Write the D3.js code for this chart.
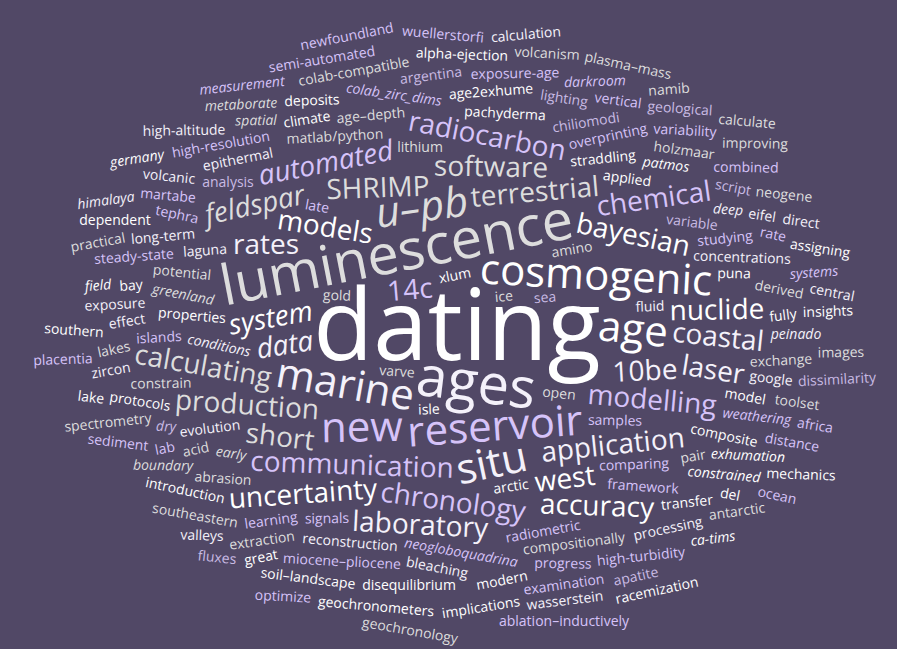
<!DOCTYPE html>
<html>
<head>
<meta charset="utf-8">
<script src="https://cdn.jsdelivr.net/npm/d3@7"></script>
<style>
  html, body { margin: 0; padding: 0; background: #514866; }
  svg { display: block; }
</style>
</head>
<body>
<div id="chart"></div>
<script>
// word frequencies, grouped by count
var wordsCount7 = ['dating'];
var wordsCount4 = ['ages', 'luminescence'];
var wordsCount3 = ['reservoir', 'cosmogenic', 'marine', 'u\u2013pb', 'new', 'age', 'situ'];
var wordsCount2 = ['terrestrial', 'communication', 'models', 'data', 'SHRIMP', 'modelling',
    'bayesian', 'application', 'software', 'chronology', 'system', '10be', 'production',
    'radiocarbon', 'west', 'rates', 'short', 'automated', 'uncertainty', 'laboratory',
    'calculating', 'chemical', 'nuclide', 'coastal', 'feldspar', '14c', 'accuracy', 'laser'];
var wordsCount1 = ['amino', 'comparing', 'properties', 'conditions', 'straddling', 'samples',
    'applied', 'radiometric', 'matlab/python', 'framework', 'greenland', 'evolution', 'lithium',
    'variable', 'xlum', 'laguna', 'pachyderma', 'neogloboquadrina', 'arctic', 'signals',
    'potential', 'overprinting', 'age\u2013depth', 'concentrations', 'early', 'chiliomodi', 'isle',
    'reconstruction', 'composite', 'studying', 'puna', 'colab_zirc_dims', 'pair', 'islands',
    'abrasion', 'bleaching', 'compositionally', 'analysis', 'patmos', 'epithermal', 'age2exhume',
    'miocene\u2013pliocene', 'model', 'learning', 'constrain', 'weathering', 'acid', 'long-term',
    'gold', 'lighting', 'climate', 'fluid', 'constrained', 'tephra', 'transfer', 'progress',
    'holzmaar', 'high-resolution', 'exchange', 'deep', 'derived', 'argentina', 'disequilibrium',
    'google', 'modern', 'steady-state', 'exhumation', 'late', 'extraction', 'exposure-age', 'open',
    'processing', 'ice', 'dry', 'protocols', 'effect', 'deposits', 'martabe', 'introduction',
    'high-turbidity', 'boundary', 'vertical', 'colab-compatible', 'exposure', 'varve', 'script',
    'fully', 'peinado', 'soil\u2013landscape', 'lab', 'bay', 'variability', 'southeastern',
    'examination', 'spatial', 'volcanic', 'lakes', 'sea', 'alpha-ejection', 'eifel', 'implications',
    'darkroom', 'geochronometers', 'rate', 'spectrometry', 'combined', 'toolset', 'zircon',
    'metaborate', 'geological', 'del', 'wasserstein', 'dependent', 'sediment', 'great', 'systems',
    'volcanism', 'distance', 'antarctic', 'high-altitude', 'neogene', 'apatite', 'field', 'valleys',
    'assigning', 'semi-automated', 'insights', 'wuellerstorfi', 'plasma\u2013mass', 'measurement',
    'improving', 'direct', 'practical', 'dissimilarity', 'southern', 'central', 'ca-tims',
    'ablation\u2013inductively', 'lake', 'newfoundland', 'namib', 'optimize', 'geochronology',
    'himalaya', 'images', 'fluxes', 'racemization', 'calculation', 'mechanics', 'africa',
    'germany', 'placentia', 'calculate', 'ocean'];

var groups = [[7, wordsCount7], [4, wordsCount4], [3, wordsCount3], [2, wordsCount2], [1, wordsCount1]];

var palette = ['#ffffff', '#f4f1fa', '#dddddd', '#d6c3f9', '#ffffff', '#c9bbe4'];

var width = 897, height = 649;

var data = [];
groups.forEach(g => g[1].forEach(w => data.push({text: w, count: g[0]})));

var fontScale = d3.scaleLinear().domain([0, 7]).range([0, 98]);

var color = d3.scaleOrdinal().range(palette);

data.forEach((d, i) => {
    d.size = fontScale(d.count);
    d.rotate = ((i * 7 + 12) % 25) - 12;
    d.color = color(i % 4 + (i > 40 && i % 3 == 0 ? 2 : 0));
    d.italic = i % 7 == 6;
});

var cloud = layoutCloud(data, width, height);

var svg = d3.select('#chart').append('svg')
    .attr('width', width)
    .attr('height', height);

svg.append('rect')
    .attr('width', width)
    .attr('height', height)
    .attr('fill', '#514866');

svg.append('g')
    .selectAll('text')
    .data(cloud)
    .enter().append('text')
    .attr('transform', d => `translate(${d.x},${d.y}) rotate(${d.rotate})`)
    .attr('y', d => d.size * 0.3)
    .attr('text-anchor', 'middle')
    .style('font-family', '"Open Sans"')
    .style('font-size', d => d.size + 'px')
    .style('font-style', d => d.italic ? 'italic' : 'normal')
    .style('fill', d => d.color)
    .text(d => d.text);

// spiral placement with pixel collision, biggest words first
function layoutCloud(words, W, H) {
    var board = new Uint8Array(W * H);
    var canvas = document.createElement('canvas');
    var ctx = canvas.getContext('2d', {willReadFrequently: true});
    var cx = W / 2 + 8, cy = H / 2 + 6, ratio = 1.3, b = 0.8;
    var seed = 7;
    var out = [];

    words.slice().sort((a, c) => c.size - a.size).forEach(d => {
        var s = makeSprite(d);
        var theta = 0;
        while (true) {
            var r = b * theta;
            if (r > 580) break;
            var x = Math.round(cx + ratio * r * Math.cos(theta));
            var y = Math.round(cy + r * Math.sin(theta));
            if (x + s.x0 >= 0 && x + s.x1 < W && y + s.y0 >= 0 && y + s.y1 < H && fits(s, x, y)) {
                for (var i = 0; i < s.px.length; i += 2) board[(y + s.px[i + 1]) * W + x + s.px[i]] = 1;
                d.x = x; d.y = y;
                out.push(d);
                break;
            }
            theta += r < 10 ? 0.3 : 3 / r;
        }
    });
    return out;

    function fits(s, x, y) {
        var px = s.px;
        for (var i = 0; i < px.length; i += 2) {
            if (board[(y + px[i + 1]) * W + x + px[i]]) return false;
        }
        return true;
    }

    function makeSprite(d) {
        var font = (d.italic ? 'italic ' : '') + d.size + 'px "Open Sans"';
        ctx.font = font;
        var w = ctx.measureText(d.text).width;
        var side = Math.ceil(Math.sqrt(w * w + d.size * d.size * 2.25)) + 12;
        canvas.width = canvas.height = side;
        ctx.font = font;
        ctx.textAlign = 'center';
        ctx.fillStyle = '#000';
        ctx.strokeStyle = '#000';
        ctx.lineWidth = 6;
        ctx.lineJoin = 'round';
        ctx.translate(side / 2, side / 2);
        ctx.rotate(d.rotate * Math.PI / 180);
        ctx.fillText(d.text, 0, d.size * 0.3);
        ctx.strokeText(d.text, 0, d.size * 0.3);
        var img = ctx.getImageData(0, 0, side, side).data;
        var pts = [], x0 = 1e9, x1 = -1e9, y0 = 1e9, y1 = -1e9;
        var half = Math.floor(side / 2);
        for (var py = 0; py < side; py++) {
            for (var px = 0; px < side; px++) {
                if (img[(py * side + px) * 4 + 3] > 0) {
                    var dx = px - half, dy = py - half;
                    pts.push([dx, dy]);
                    if (dx < x0) x0 = dx;
                    if (dx > x1) x1 = dx;
                    if (dy < y0) y0 = dy;
                    if (dy > y1) y1 = dy;
                }
            }
        }
        // shuffle so collisions are found early
        for (var i = pts.length - 1; i > 0; i--) {
            seed = (seed * 1103515245 + 12345) & 0x7fffffff;
            var j = seed % (i + 1);
            var t = pts[i]; pts[i] = pts[j]; pts[j] = t;
        }
        var flat = new Int32Array(pts.length * 2);
        pts.forEach((p, i) => { flat[2 * i] = p[0]; flat[2 * i + 1] = p[1]; });
        return {px: flat, x0: x0, x1: x1, y0: y0, y1: y1};
    }
}
</script>
</body>
</html>
